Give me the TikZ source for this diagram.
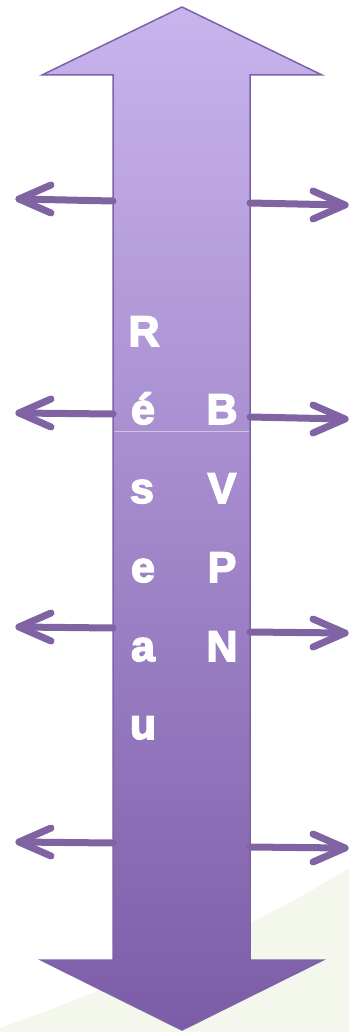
\documentclass[tikz,border=0pt]{standalone}
\usepackage{fontspec}
\setmainfont{Liberation Sans}
\newfontfamily\heavyfont{Liberation Sans Bold}[FakeBold=3.5]
\definecolor{toplav}{HTML}{C9B4EE}
\definecolor{botlav}{HTML}{7C5CA8}
\definecolor{edgecol}{HTML}{7D62A8}
\definecolor{sidecol}{HTML}{8063A3}
\definecolor{bggreen}{HTML}{F4F7EC}
\tikzset{
  sidearrow/.style={draw=sidecol, line width=7pt, line cap=round, line join=round},
  letter/.style={text=white, font=\heavyfont\fontsize{43}{43}\selectfont, anchor=base, inner sep=0pt},
}
\begin{document}
\begin{tikzpicture}[x=1pt,y=-1pt]
\useasboundingbox (0,0) rectangle (349,1032);
% faint background swoosh
\fill[bggreen] (0,1028) .. controls (120,985) and (250,930) .. (349,868) -- (349,1032) -- (0,1032) -- cycle;
% main double arrow
\shade[top color=toplav, bottom color=botlav, draw=edgecol, line width=1.5pt, line join=miter]
  (182,7) -- (322,75) -- (250,75) -- (250,960) -- (323,960) -- (182,1030) -- (41,960) -- (113,960) -- (113,75) -- (42,75) -- cycle;
\draw[white, opacity=0.45, line width=0.8pt] (114,431) -- (249,431);
% side arrows
\foreach \i/\ly/\lt/\ry/\rt in {1/201/199/203/205, 2/414/413/417/419, 3/628/627/632/633, 4/843/842/847/848} {
  \coordinate (ls\i) at (113,\ly);
  \coordinate (lt\i) at (19,\lt);
  \coordinate (rs\i) at (250,\ry);
  \coordinate (rt\i) at (345,\rt);
  \draw[sidearrow] (ls\i) -- (lt\i);
  \draw[sidearrow] ([shift={(32,-14)}]lt\i) -- (lt\i) -- ([shift={(32,14)}]lt\i);
  \draw[sidearrow] (rs\i) -- (rt\i);
  \draw[sidearrow] ([shift={(-32,-14)}]rt\i) -- (rt\i) -- ([shift={(-32,14)}]rt\i);
}
% letters
\node[letter] (r1) at (144,346) {R};
\node[letter] (r2) at (143,424) {é};
\node[letter] (r3) at (142,503) {s};
\node[letter] (r4) at (143,582) {e};
\node[letter] (r5) at (143,661) {a};
\node[letter] (r6) at (143,739) {u};
\node[letter] (b1) at (222,424) {B};
\node[letter] (b2) at (222,503) {V};
\node[letter] (b3) at (222,582) {P};
\node[letter] (b4) at (222,661) {N};
\end{tikzpicture}
\end{document}
